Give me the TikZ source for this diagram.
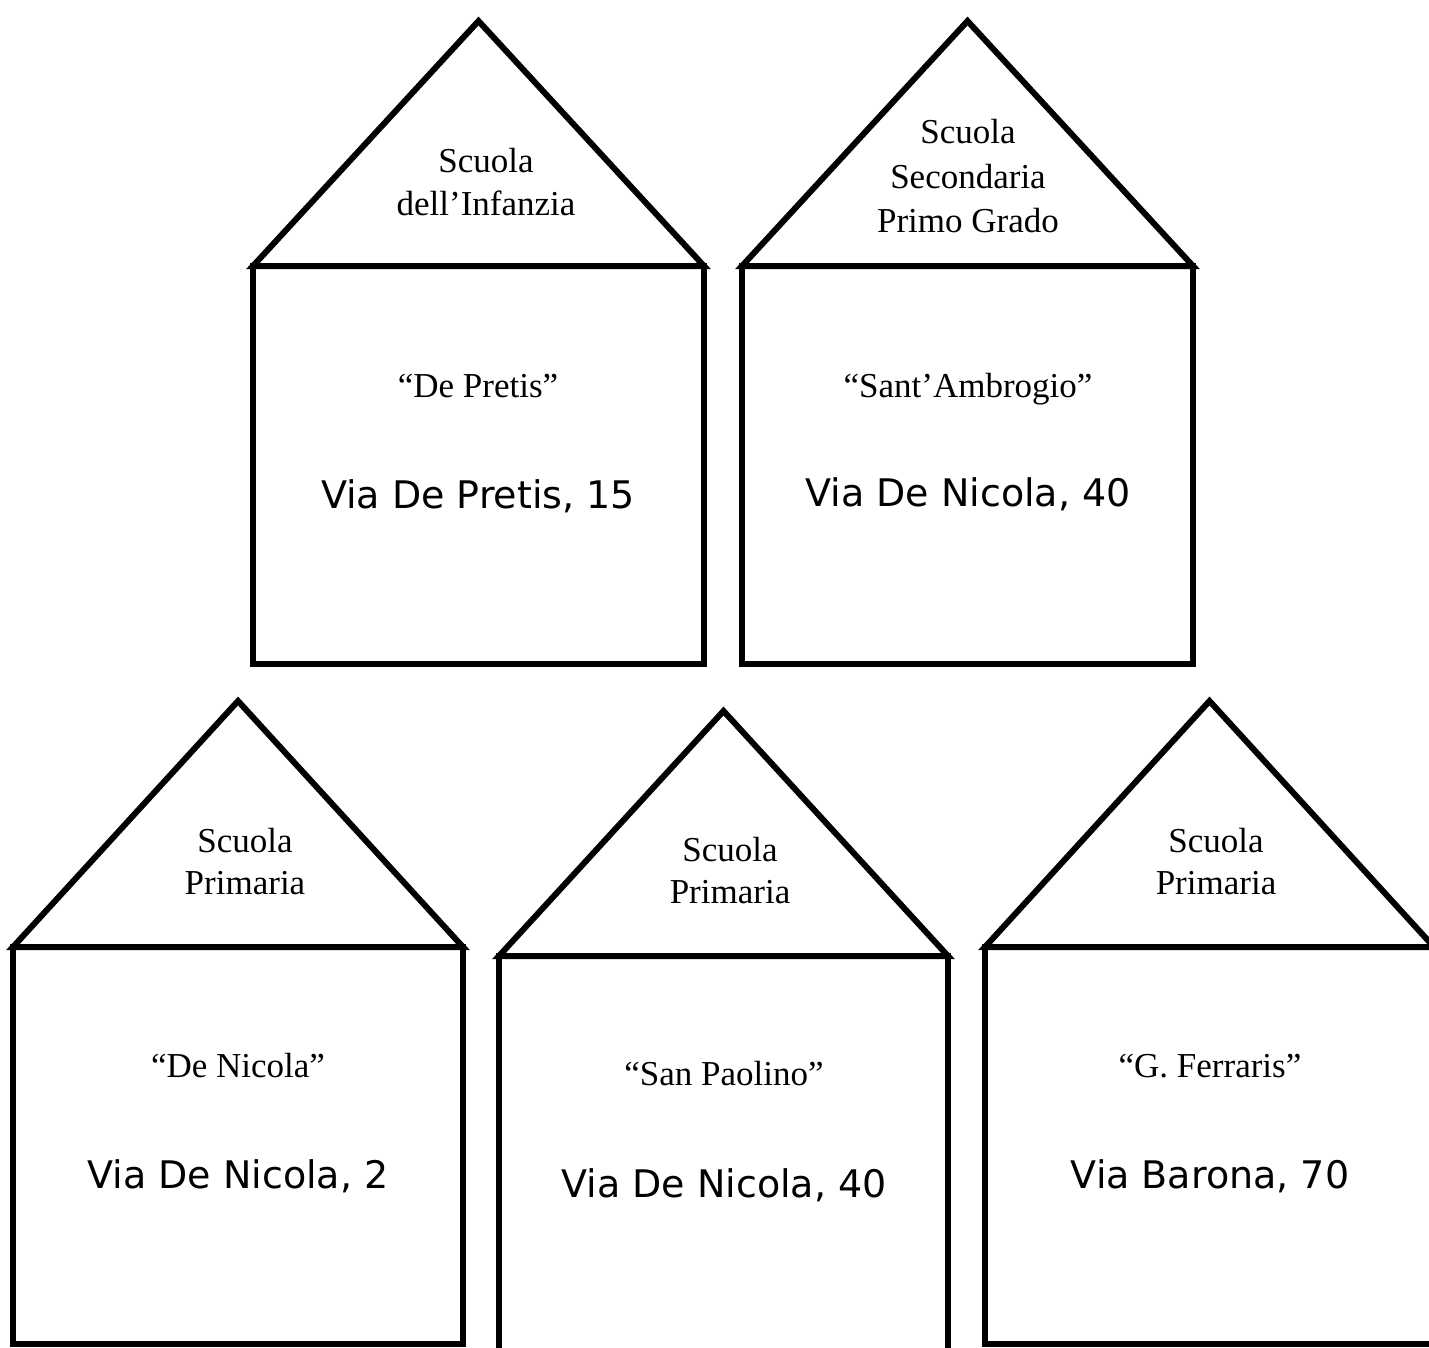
\documentclass[tikz,border=0pt]{standalone}
\usepackage{fontspec}
\newfontfamily\headfont{Liberation Serif}
\newfontfamily\addrfont{DejaVu Sans}
\tikzset{
  outline/.style={draw=black, line width=6pt, line join=miter},
  head/.style={font=\headfont\fontsize{35}{44}\selectfont, align=center, anchor=base, inner sep=0pt},
  addr/.style={font=\addrfont\fontsize{38}{44}\selectfont, anchor=base, inner sep=0pt},
}
\begin{document}
\begin{tikzpicture}[x=1pt,y=-1pt]
\useasboundingbox (0,0) rectangle (1429,1347);
\clip (0,0) rectangle (1429,1347);
% House 1
\draw[outline] (253,266) -- (478.5,21) -- (704,266) -- cycle;
\draw[outline] (253,266) rectangle (704,664);
\node[head] (h1a) at (486,172) {Scuola};
\node[head] (h1b) at (486,215) {dell’Infanzia};
\node[head] (n1) at (478,397) {“De Pretis”};
\node[addr] (a1) at (478,508) {Via De Pretis, 15};
% House 2
\draw[outline] (742,266) -- (967.5,21) -- (1193,266) -- cycle;
\draw[outline] (742,266) rectangle (1193,664);
\node[head] (h2a) at (968,143) {Scuola};
\node[head] (h2b) at (968,188) {Secondaria};
\node[head] (h2c) at (968,232) {Primo Grado};
\node[head] (n2) at (968,397) {“Sant’Ambrogio”};
\node[addr] (a2) at (968,506) {Via De Nicola, 40};
% House 3
\draw[outline] (13,947) -- (238,701) -- (463,947) -- cycle;
\draw[outline] (13,947) rectangle (463,1344);
\node[head] (h3a) at (245,852) {Scuola};
\node[head] (h3b) at (245,894) {Primaria};
\node[head] (n3) at (238,1077) {“De Nicola”};
\node[addr] (a3) at (238,1188) {Via De Nicola, 2};
% House 4
\draw[outline] (499,956) -- (723.5,711) -- (948,956) -- cycle;
\draw[outline] (499,956) rectangle (948,1356);
\node[head] (h4a) at (730,861) {Scuola};
\node[head] (h4b) at (730,903) {Primaria};
\node[head] (n4) at (724,1085) {“San Paolino”};
\node[addr] (a4) at (724,1197) {Via De Nicola, 40};
% House 5
\draw[outline] (985,947) -- (1209.5,701) -- (1434,947) -- cycle;
\draw[outline] (985,947) rectangle (1434,1344);
\node[head] (h5a) at (1216,852) {Scuola};
\node[head] (h5b) at (1216,894) {Primaria};
\node[head] (n5) at (1210,1077) {“G. Ferraris”};
\node[addr] (a5) at (1210,1188) {Via Barona, 70};
\end{tikzpicture}
\end{document}
